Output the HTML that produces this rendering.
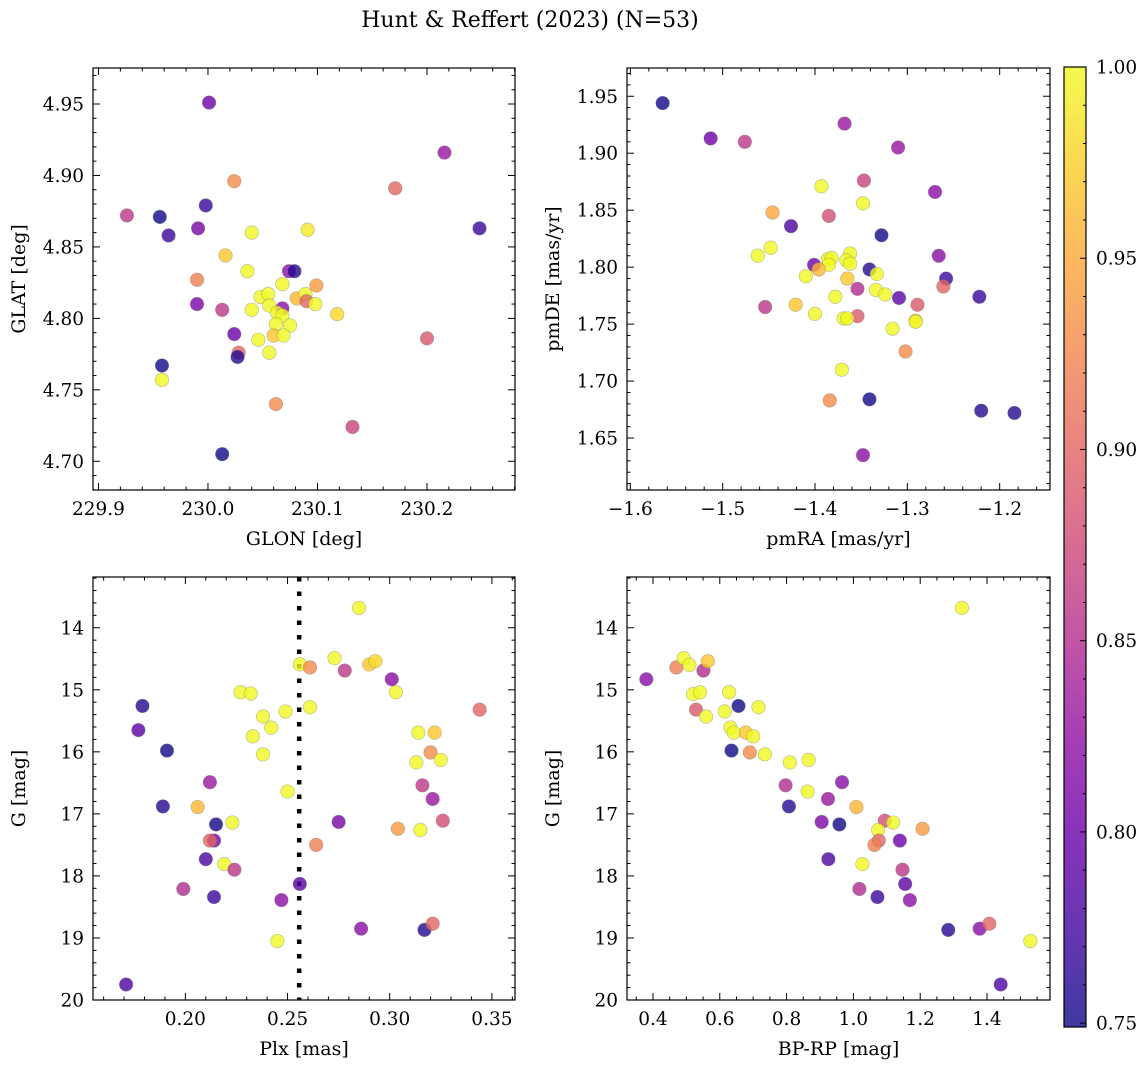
<!DOCTYPE html>
<html><head><meta charset="utf-8"><style>
body{margin:0;background:#fff;}
svg{display:block;font-family:"DejaVu Serif","Liberation Serif",serif;}
</style></head><body>
<svg id="fig" width="1148" height="1067" xmlns="http://www.w3.org/2000/svg">
<text x="530" y="27" font-size="22" text-anchor="middle">Hunt &amp; Reffert (2023) (N=53)</text>
</svg>
<script>
// Panel 1: GLON / GLAT
const glon1=[230.001,230.216,230.024,230.171,229.998,229.926,229.956,229.964,229.991,230.040,230.091,230.248,230.016,230.036,230.074,230.079,229.990,230.068,230.099,230.048,230.055,230.081,230.089,230.090,230.098,229.990,230.013,230.040,230.056,230.068,230.063,230.068,230.118,230.062,230.075,230.060,230.069,230.024,230.046,230.200,230.028,230.027,230.056,229.958,229.958,230.062,230.132,230.013];
const glat1=[4.951,4.916,4.896,4.891,4.879,4.872,4.871,4.858,4.863,4.860,4.862,4.863,4.844,4.833,4.833,4.833,4.827,4.824,4.823,4.815,4.817,4.814,4.817,4.812,4.810,4.810,4.806,4.806,4.809,4.807,4.804,4.802,4.803,4.796,4.795,4.788,4.788,4.789,4.785,4.786,4.776,4.773,4.776,4.767,4.757,4.740,4.724,4.705];
const prob1=[0.80,0.83,0.93,0.90,0.77,0.86,0.75,0.77,0.81,1,0.99,0.77,0.97,1,0.82,0.76,0.92,1,0.94,1,1,0.96,1,0.90,1,0.81,0.86,1,1,0.82,1,1,0.98,1,1,0.97,1,0.80,1,0.89,0.90,0.76,1,0.75,1,0.93,0.87,0.75];
// Panel 2: pmRA / pmDE
const pmra2=[-1.565,-1.368,-1.513,-1.476,-1.310,-1.347,-1.393,-1.270,-1.348,-1.446,-1.385,-1.426,-1.328,-1.448,-1.462,-1.266,-1.386,-1.382,-1.362,-1.366,-1.362,-1.401,-1.385,-1.396,-1.341,-1.333,-1.410,-1.365,-1.258,-1.261,-1.354,-1.334,-1.324,-1.378,-1.309,-1.222,-1.454,-1.421,-1.289,-1.400,-1.354,-1.369,-1.365,-1.291,-1.291,-1.316,-1.302,-1.371,-1.384,-1.341,-1.220,-1.184,-1.348];
const pmde2=[1.944,1.926,1.913,1.910,1.905,1.876,1.871,1.866,1.856,1.848,1.845,1.836,1.828,1.817,1.810,1.810,1.807,1.808,1.812,1.806,1.803,1.802,1.802,1.798,1.798,1.794,1.792,1.790,1.790,1.783,1.781,1.780,1.776,1.774,1.773,1.774,1.765,1.767,1.767,1.759,1.757,1.755,1.755,1.753,1.752,1.746,1.726,1.710,1.683,1.684,1.674,1.672,1.635];
const prob2=[0.75,0.83,0.80,0.86,0.83,0.87,1,0.82,1,0.95,0.88,0.78,0.75,1,1,0.82,1,1,1,1,1,0.80,1,0.96,0.76,1,1,0.97,0.77,0.90,0.85,1,1,1,0.79,0.77,0.86,0.97,0.89,1,0.89,1,1,0.98,1,1,0.93,1,0.93,0.75,0.76,0.76,0.82];
// Panel 3: Plx / G
const plx3=[0.285,0.256,0.261,0.273,0.278,0.290,0.293,0.301,0.303,0.227,0.232,0.179,0.344,0.261,0.249,0.238,0.242,0.177,0.233,0.314,0.322,0.191,0.238,0.320,0.325,0.313,0.212,0.316,0.250,0.321,0.189,0.206,0.215,0.223,0.275,0.304,0.315,0.326,0.214,0.212,0.264,0.210,0.219,0.224,0.256,0.199,0.214,0.247,0.286,0.317,0.321,0.245,0.171];
const g3=[13.68,14.59,14.64,14.49,14.69,14.59,14.54,14.83,15.04,15.04,15.06,15.26,15.32,15.28,15.35,15.43,15.61,15.65,15.75,15.69,15.69,15.98,16.04,16.01,16.13,16.17,16.49,16.54,16.64,16.76,16.88,16.89,17.17,17.14,17.13,17.24,17.26,17.11,17.43,17.43,17.50,17.73,17.81,17.90,18.13,18.21,18.34,18.39,18.85,18.87,18.77,19.05,19.75];
const prob3=[1,1,0.93,1,0.86,0.97,0.98,0.82,1,1,1,0.76,0.90,1,1,1,1,0.79,1,1,0.97,0.75,1,0.93,1,1,0.83,0.86,1,0.83,0.76,0.96,0.75,1,0.81,0.94,1,0.88,0.80,0.90,0.92,0.78,1,0.86,0.79,0.85,0.77,0.82,0.82,0.76,0.90,1,0.78];
const plxLine=0.2557;
// Panel 4: BP-RP / G
const bprp4=[1.325,0.380,0.470,0.492,0.509,0.551,0.564,0.520,0.541,0.628,0.529,0.559,0.656,0.716,0.615,0.632,0.642,0.678,0.700,0.635,0.690,0.735,0.810,0.866,0.797,0.966,0.863,0.924,0.807,1.009,0.905,0.958,1.094,1.119,1.074,1.207,1.076,1.063,1.139,0.925,1.027,1.147,1.155,1.018,1.072,1.169,1.284,1.378,1.407,1.530,1.441];
const g4=[13.68,14.83,14.64,14.49,14.60,14.69,14.54,15.07,15.04,15.04,15.32,15.43,15.26,15.28,15.35,15.61,15.69,15.69,15.75,15.98,16.01,16.04,16.17,16.13,16.54,16.49,16.64,16.76,16.88,16.89,17.13,17.17,17.11,17.14,17.26,17.24,17.43,17.50,17.43,17.73,17.81,17.90,18.13,18.21,18.34,18.39,18.87,18.85,18.77,19.05,19.75];
const prob4=[1,0.82,0.92,1,1,0.85,0.97,1,1,1,0.89,1,0.75,1,1,1,1,0.97,1,0.75,0.93,1,1,1,0.85,0.82,1,0.83,0.76,0.96,0.81,0.75,0.88,1,1,0.94,0.90,0.92,0.80,0.78,1,0.86,0.79,0.85,0.77,0.82,0.76,0.82,0.90,1,0.78];
const cbTicks=[0.75,0.80,0.85,0.90,0.95,1.00];

const NS="http://www.w3.org/2000/svg";
const svg=document.getElementById('fig');
const VMIN=0.749,VMAX=1.0;
const stops=[[13,8,135],[65,4,157],[106,0,168],[143,13,164],[177,42,144],[204,71,120],[225,100,98],[242,132,75],[252,166,54],[252,206,37],[240,249,33]];
function plasma(t){t=Math.max(0,Math.min(1,t));const f=t*10,i=Math.min(9,Math.floor(f)),u=f-i;const a=stops[i],b=stops[i+1];return 'rgb('+a.map((v,k)=>Math.round(v+(b[k]-v)*u)).join(',')+')';}
function col(p){return plasma((p-VMIN)/(VMAX-VMIN));}
function mk(tag,attrs,parent){const e=document.createElementNS(NS,tag);for(const k in attrs)e.setAttribute(k,attrs[k]);(parent||svg).appendChild(e);return e;}
const TFS=18.5,LFS=19;

function panel(name,L,T,W,H,xr,yr,xmaj,xmin,ymaj,ymin,xfmt,yfmt,xlab,ylab,xs,ys,ps,extra){
  const g=mk('g',{});
  
  
  const X=v=>L+(v-xr[0])/(xr[1]-xr[0])*W;
  const Y=v=>T+(v-yr[0])/(yr[1]-yr[0])*H;
  if(extra)extra(g,X,Y);
  for(let i=0;i<xs.length;i++){
    const c=mk('circle',{cx:X(xs[i]),cy:Y(ys[i]),r:6.8,fill:col(ps[i]),'fill-opacity':0.8,stroke:'#777','stroke-opacity':0.5,'stroke-width':0.6},g);
    
    
  }
  const tk=mk('g',{stroke:'#000','stroke-width':1},g);
  const lo=Math.min(xr[0],xr[1]),hi=Math.max(xr[0],xr[1]);
  for(let v=Math.ceil(lo/xmin-1e-6)*xmin;v<=hi+1e-9;v+=xmin){const x=X(v);const isM=Math.abs(v/xmaj-Math.round(v/xmaj))<1e-4;const l=isM?7:3.5;
    mk('line',{x1:x,x2:x,y1:T+H,y2:T+H-l},tk);mk('line',{x1:x,x2:x,y1:T,y2:T+l},tk);
    if(isM){const t=mk('text',{x:x,y:T+H+25,'font-size':TFS,'text-anchor':'middle',stroke:'none'},g);t.textContent=xfmt(v);}}
  const ylo=Math.min(yr[0],yr[1]),yhi=Math.max(yr[0],yr[1]);
  for(let v=Math.ceil(ylo/ymin-1e-6)*ymin;v<=yhi+1e-9;v+=ymin){const y=Y(v);const isM=Math.abs(v/ymaj-Math.round(v/ymaj))<1e-4;const l=isM?7:3.5;
    mk('line',{x1:L,x2:L+l,y1:y,y2:y},tk);mk('line',{x1:L+W,x2:L+W-l,y1:y,y2:y},tk);
    if(isM){const t=mk('text',{x:L-9,y:y+6.5,'font-size':TFS,'text-anchor':'end',stroke:'none'},g);t.textContent=yfmt(v);}}
  mk('rect',{x:L,y:T,width:W,height:H,fill:'none',stroke:'#000','stroke-width':1.2},g);
  const xl=mk('text',{x:L+W/2,y:T+H+55,'font-size':LFS,'text-anchor':'middle'},g);xl.textContent=xlab;
  
  const yl=mk('text',{x:0,y:0,'font-size':LFS,'text-anchor':'middle',transform:'translate('+(L-68)+','+(T+H/2)+') rotate(-90)'},g);yl.textContent=ylab;
  
}
const f1=v=>v.toFixed(1),f2=v=>v.toFixed(2),f0=v=>v.toFixed(0);
const fm=v=>(v<0?'\u2212':'')+Math.abs(v).toFixed(1);
panel('glon-glat-panel',93,68,422,422,[229.895,230.2804],[4.9752,4.6799],0.1,0.02,0.05,0.01,f1,f2,'GLON [deg]','GLAT [deg]',glon1,glat1,prob1);
panel('pmra-pmde-panel',627,68,423,422,[-1.6036,-1.1455],[1.9748,1.6044],0.1,0.02,0.05,0.01,fm,f2,'pmRA [mas/yr]','pmDE [mas/yr]',pmra2,pmde2,prob2);
panel('plx-g-panel',93,577,422,423,[0.1548,0.3613],[13.182,20.0],0.05,0.01,1,0.2,f2,f0,'Plx [mas]','G [mag]',plx3,g3,prob3,(g,X,Y)=>{
  const l=mk('line',{x1:X(plxLine),x2:X(plxLine),y1:577,y2:1000,stroke:'#000','stroke-width':4.5,'stroke-dasharray':'4.5,10'},g);
  });
panel('bprp-g-panel',627,577,423,423,[0.3222,1.5886],[13.182,20.0],0.2,0.05,1,0.2,f1,f0,'BP-RP [mag]','G [mag]',bprp4,g4,prob4);

// colorbar
const cb=mk('g',{});


const CL=1064,CT=67,CW=22,CH=960;
const defs=mk('defs',{},cb);const lg=mk('linearGradient',{id:'cbg',x1:0,y1:1,x2:0,y2:0},defs);
for(let i=0;i<=20;i++)mk('stop',{offset:i/20,'stop-color':plasma(i/20),'stop-opacity':0.8},lg);
mk('rect',{x:CL,y:CT,width:CW,height:CH,fill:'url(#cbg)'},cb);
const CY=v=>CT+(VMAX-v)/(VMAX-VMIN)*CH;
for(let v=0.75;v<=1.0001;v+=0.01){const y=CY(v);const isM=Math.abs(v*20-Math.round(v*20))<1e-4;
  mk('line',{x1:CL+CW,x2:CL+CW-(isM?6:3),y1:y,y2:y,stroke:'#000','stroke-width':1},cb);}
cbTicks.forEach(v=>{const t=mk('text',{x:CL+CW+10,y:CY(v)+6.5,'font-size':TFS},cb);t.textContent=v.toFixed(2);
  });
mk('rect',{x:CL,y:CT,width:CW,height:CH,fill:'none',stroke:'#000','stroke-width':1.2},cb);
</script>
</body></html>
